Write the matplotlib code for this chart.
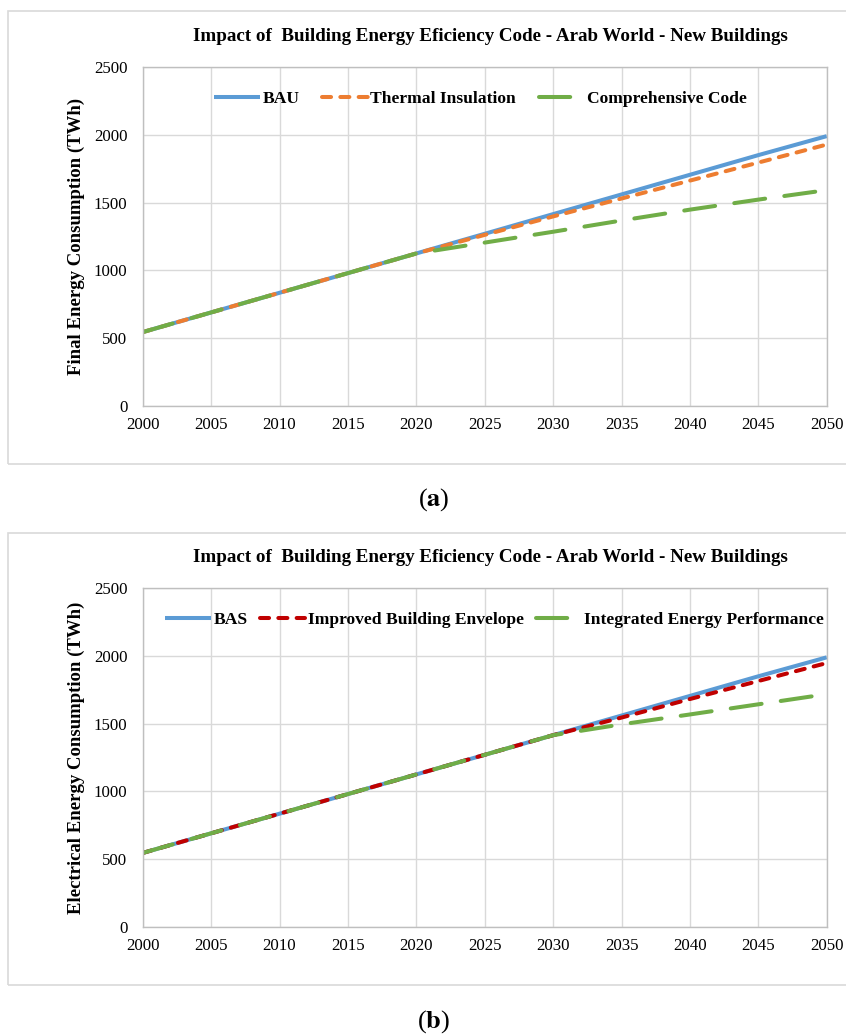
import matplotlib.pyplot as plt
from matplotlib.patches import Rectangle

plt.rcParams['font.family'] = 'Liberation Serif'
plt.rcParams['mathtext.fontset'] = 'stix'

years = [2000, 2005, 2010, 2015, 2020, 2025, 2030, 2035, 2040, 2045, 2050]

# panel (a)
bau = [545, 690, 835, 980, 1125, 1270, 1415, 1560, 1705, 1850, 1990]
thermal = [545, 690, 835, 980, 1125, 1262, 1398, 1530, 1662, 1795, 1928]
comprehensive = [545, 690, 835, 980, 1125, 1205, 1285, 1368, 1448, 1522, 1592]

# panel (b)
bas = [545, 690, 835, 980, 1125, 1270, 1415, 1560, 1705, 1850, 1990]
envelope = [545, 690, 835, 980, 1125, 1270, 1415, 1545, 1682, 1815, 1948]
integrated = [545, 690, 835, 980, 1125, 1270, 1415, 1495, 1568, 1643, 1718]

TITLE = 'Impact of  Building Energy Eficiency Code - Arab World - New Buildings'
BLUE = '#5B9BD5'
ORANGE = '#ED7D31'
GREEN = '#70AD47'
RED = '#C00000'
GRID = '#D9D9D9'
LW = 2.9

fig = plt.figure(figsize=(8.46, 10.35), dpi=100)

# light gray frames around each chart
for y0, h in [(0.5517, 0.4377), (0.0483, 0.4367)]:
    fig.patches.append(Rectangle((0.0095, y0), 1.2, h, transform=fig.transFigure,
                                 fill=False, edgecolor=GRID, lw=1.2))

SHORT = (2.25, 2.3)
LONG = (7.75, 4.8)

panels = [
    dict(rect=[0.1687, 0.6077, 0.8085, 0.3276], ylabel='Final Energy Consumption (TWh)',
         series=[(bau, 'BAU', BLUE, None), (thermal, 'Thermal Insulation', ORANGE, SHORT),
                 (comprehensive, 'Comprehensive Code', GREEN, LONG)],
         title_y=0.9643, leg=(0.568, 0.9043), colsp=1.3, cap='a', cap_y=0.5169),
    dict(rect=[0.1687, 0.1046, 0.8085, 0.3270], ylabel='Electrical Energy Consumption (TWh)',
         series=[(bas, 'BAS', BLUE, None), (envelope, 'Improved Building Envelope', RED, SHORT),
                 (integrated, 'Integrated Energy Performance', GREEN, LONG)],
         title_y=0.4609, leg=(0.585, 0.401), colsp=0.7, cap='b', cap_y=0.0126),
]

for p in panels:
    ax = fig.add_axes(p['rect'])
    for vals, name, col, dash in p['series']:
        if dash is None:
            ax.plot(years, vals, color=col, lw=LW, label=name, solid_capstyle='butt')
        else:
            ax.plot(years, vals, color=col, lw=LW, label=name, linestyle=(0, dash),
                    dash_capstyle='round')
    ax.set_xlim(2000, 2050)
    ax.set_ylim(0, 2500)
    ax.set_xticks(range(2000, 2051, 5))
    ax.set_yticks(range(0, 2501, 500))
    ax.grid(True, color=GRID, lw=1)
    ax.set_axisbelow(True)
    for s in ax.spines.values():
        s.set_color('#BFBFBF')
        s.set_linewidth(1)
    ax.tick_params(length=0, labelsize=12.2)
    ax.tick_params(axis='x', pad=8)
    ax.tick_params(axis='y', pad=11)
    ax.set_ylabel(p['ylabel'], fontsize=13.5, fontweight='bold')
    ax.yaxis.set_label_coords(-0.084, 0.5)
    fig.text(0.58, p['title_y'], TITLE, ha='center', va='center', fontsize=13.7, fontweight='bold')
    ax.legend(loc='center', bbox_to_anchor=p['leg'], bbox_transform=fig.transFigure, ncol=3,
              frameon=False, prop={'weight': 'bold', 'size': 12.6}, handlelength=2.6,
              handletextpad=0.15, columnspacing=p['colsp'], borderpad=0, borderaxespad=0)
    fig.text(0.513, p['cap_y'], r'($\mathbf{' + p['cap'] + '}$)', ha='center', va='center',
             fontsize=19)

fig.savefig('out.png', dpi=100)
